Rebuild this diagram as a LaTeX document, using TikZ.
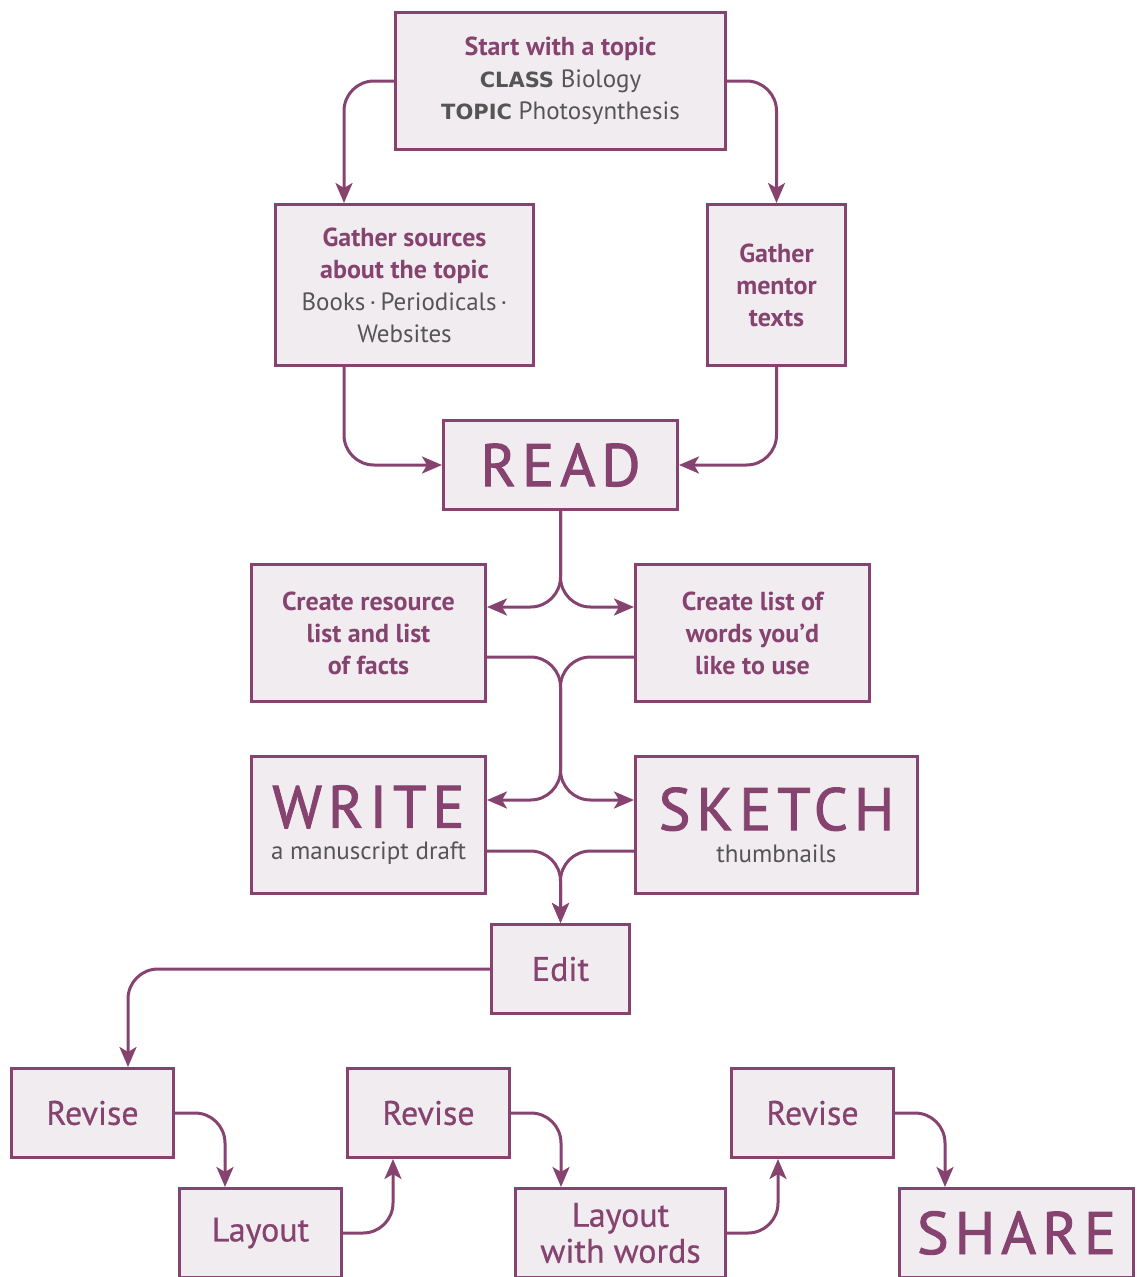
\documentclass[tikz,border=0pt]{standalone}
\usepackage{fontspec}
\setmainfont{PT Sans}
\newfontfamily\heavyfont{DejaVu Sans}
\newfontfamily\bigfont[LetterSpace=10,FakeBold=1.6]{PT Sans}
\newfontfamily\midfont[FakeBold=0.6]{PT Sans}
\usetikzlibrary{arrows.meta}
\definecolor{plum}{RGB}{134,67,111}
\definecolor{boxfill}{RGB}{241,236,240}
\definecolor{txtgray}{RGB}{85,85,85}
\newcommand{\hd}[1]{{\fontsize{26}{32}\selectfont\bfseries\color{plum}#1}}
\newcommand{\capword}[1]{{\heavyfont\bfseries\fontsize{21}{32}\selectfont\color{txtgray}#1}}
\tikzset{
  box/.style={draw=plum, fill=boxfill, line width=3pt, inner sep=0pt, align=center,
    font=\fontsize{25}{32}\selectfont, text=txtgray},
  conn/.style={draw=plum, line width=3pt, rounded corners=30pt,
    -{Stealth[length=20pt,width=17pt,inset=5pt]}},
  big/.style={font=\bigfont\fontsize{60}{60}\selectfont},
  mid/.style={font=\midfont\fontsize{34}{36}\selectfont, text=plum},
}
\begin{document}
\begin{tikzpicture}[x=1pt,y=-1pt]
\useasboundingbox (0,0) rectangle (1136,1277);
\clip (0,0) rectangle (1136,1277);
\node[box, minimum width=330pt, minimum height=137pt] (start) at (560.5,81)
  {\hd{Start with a topic}\\ \capword{CLASS} Biology\\ \capword{TOPIC} Photosynthesis};
\node[box, minimum width=258pt, minimum height=161pt] (gather) at (404.5,285)
  {\hd{Gather sources}\\ \hd{about the topic}\\ Books\,·\,Periodicals\,·\\ Websites};
\node[box, minimum width=138pt, minimum height=161pt] (mentor) at (776.5,285)
  {\hd{Gather}\\ \hd{mentor}\\ \hd{texts}};
\node[box, big, text=plum, minimum width=234pt, minimum height=89pt] (read) at (560.5,465) {READ};
\node[box, minimum width=234pt, minimum height=137pt] (cres) at (368.5,633)
  {\hd{Create resource}\\ \hd{list and list}\\ \hd{of facts}};
\node[box, minimum width=234pt, minimum height=137pt] (clist) at (752.5,633)
  {\hd{Create list of}\\ \hd{words you’d}\\ \hd{like to use}};
\node[box, minimum width=234pt, minimum height=137pt] (write) at (368.5,825)
  {{\bigfont\fontsize{60}{50}\selectfont\color{plum}WRITE}\\ a manuscript draft};
\node[box, minimum width=282pt, minimum height=137pt] (sketch) at (776.5,825)
  {{\bigfont\fontsize{60}{50}\selectfont\color{plum}SKETCH}\\ thumbnails};
\node[box, mid, minimum width=138pt, minimum height=89pt] (edit) at (560.5,969) {Edit};
\node[box, mid, minimum width=162pt, minimum height=89pt] (rev1) at (92.5,1113) {Revise};
\node[box, mid, minimum width=162pt, minimum height=89pt] (lay1) at (260.5,1233) {Layout};
\node[box, mid, minimum width=162pt, minimum height=89pt] (rev2) at (428.5,1113) {Revise};
\node[box, mid, minimum width=210pt, minimum height=89pt] (lay2) at (620.5,1233) {Layout\\with words};
\node[box, mid, minimum width=162pt, minimum height=89pt] (rev3) at (812.5,1113) {Revise};
\node[box, big, text=plum, minimum width=234pt, minimum height=89pt] (share) at (1016.5,1233) {SHARE};
\coordinate (mid1) at (560.5,730);
% connectors
\draw[conn] (start.west) -| ([xshift=-60.5pt]gather.north);
\draw[conn] (start.east) -| (mentor.north);
\draw[conn] ([xshift=-60.5pt]gather.south) |- (read.west);
\draw[conn] (mentor.south) |- (read.east);
\draw[conn] (read.south) |- ([yshift=26pt]cres.east);
\draw[conn] (read.south) |- ([yshift=26pt]clist.west);
\draw[conn] ([yshift=-24pt]cres.east) -| (mid1) |- ([yshift=25pt]write.east);
\draw[conn] ([yshift=-24pt]clist.west) -| (mid1) |- ([yshift=25pt]sketch.west);
\draw[conn] ([yshift=-26pt]write.east) -| (edit.north);
\draw[conn] ([yshift=-26pt]sketch.west) -| (edit.north);
\draw[conn] (edit.west) -| ([xshift=35.5pt]rev1.north);
\draw[conn] (rev1.east) -| ([xshift=-35.5pt]lay1.north);
\draw[conn] (lay1.east) -| ([xshift=-35.5pt]rev2.south);
\draw[conn] (rev2.east) -| ([xshift=-59.5pt]lay2.north);
\draw[conn] (lay2.east) -| ([xshift=-34.5pt]rev3.south);
\draw[conn] (rev3.east) -| ([xshift=-71.5pt]share.north);
\end{tikzpicture}
\end{document}
